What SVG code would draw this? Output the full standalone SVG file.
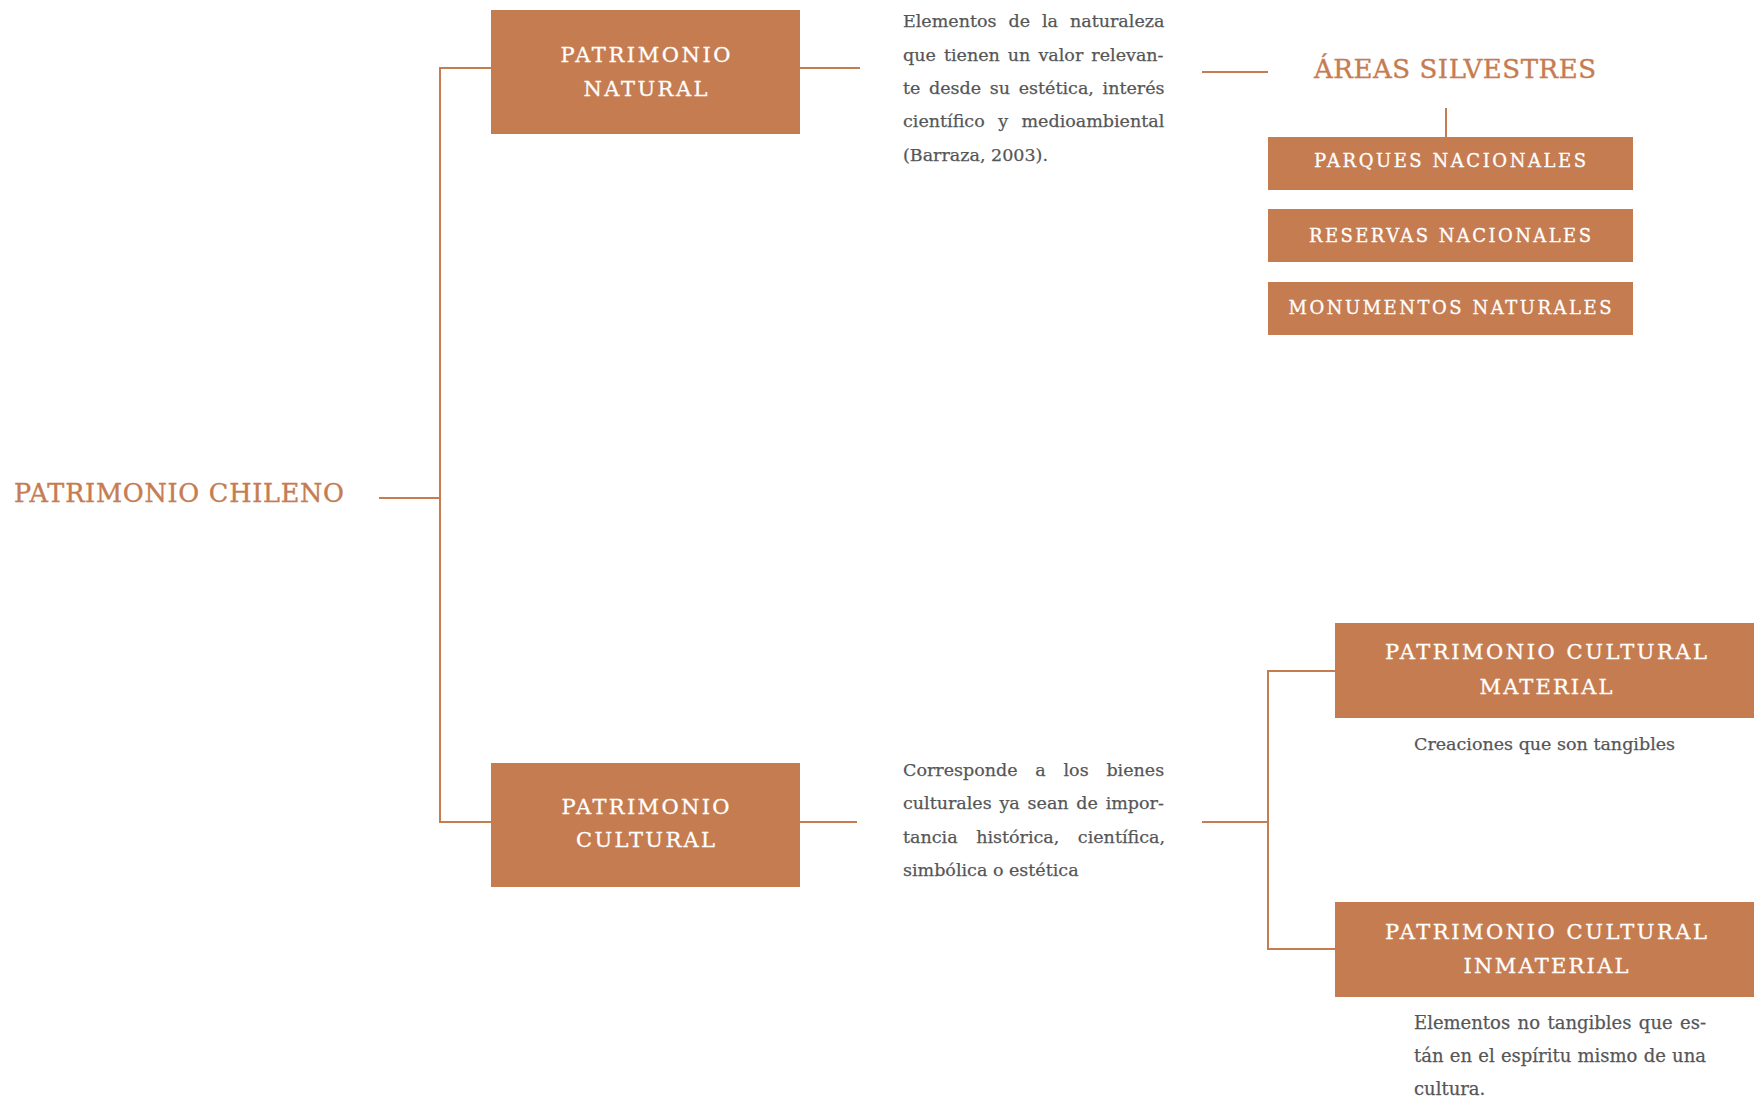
<svg xmlns="http://www.w3.org/2000/svg" width="1754" height="1103" viewBox="0 0 1754 1103">
<style>
.box{fill:#C67C51}
.lbl{font-family:"DejaVu Serif","Liberation Serif",serif;fill:#FFFFFF;stroke:#FFFFFF;stroke-width:0.3;text-anchor:middle}
.ttl{font-family:"DejaVu Serif","Liberation Serif",serif;fill:#C67C51;stroke:#C67C51;stroke-width:0.4;text-anchor:middle}
.txt{font-family:"DejaVu Serif","Liberation Serif",serif;fill:#555658;stroke:#555658;stroke-width:0.25;font-size:17.5px}
.t3{font-size:18px}
.ln{stroke:#C67C51;stroke-width:2;fill:none}
</style>
<rect width="1754" height="1103" fill="#FFFFFF"/>
<g id="connectors">
<path class="ln" d="M379,498 H440 M491,68 H440 V822 H491"/>
<path class="ln" d="M800,68 H860"/>
<path class="ln" d="M1202,72 H1268"/>
<path class="ln" d="M1446,108 V137"/>
<path class="ln" d="M800,822 H857"/>
<path class="ln" d="M1202,822 H1268 M1335,671 H1268 V949 H1335"/>
</g>
<g id="patrimonio-chileno">
<text class="ttl" x="179" y="502" font-size="25.5" textLength="330" lengthAdjust="spacing">PATRIMONIO CHILENO</text>
</g>
<g id="patrimonio-natural">
<rect class="box" x="491" y="10" width="309" height="124"/>
<text class="lbl" x="645.5" y="62" font-size="21" textLength="170" lengthAdjust="spacing">PATRIMONIO</text>
<text class="lbl" x="645.5" y="96" font-size="21" textLength="124" lengthAdjust="spacing">NATURAL</text>
</g>
<g id="desc-natural">
<text class="txt" x="903" y="27" word-spacing="6.4">Elementos de la naturaleza</text>
<text class="txt" x="903" y="60.5" word-spacing="2.5">que tienen un valor relevan-</text>
<text class="txt" x="903" y="94" word-spacing="3.1">te desde su estética, interés</text>
<text class="txt" x="903" y="127" word-spacing="7.9">científico y medioambiental</text>
<text class="txt" x="903" y="160.5">(Barraza, 2003).</text>
</g>
<g id="areas-silvestres">
<text class="ttl" x="1455" y="78" font-size="26" textLength="282" lengthAdjust="spacing">ÁREAS SILVESTRES</text>
</g>
<g id="parques-nacionales">
<rect class="box" x="1268" y="137" width="365" height="53"/>
<text class="lbl" x="1450" y="167" font-size="18" textLength="272" lengthAdjust="spacing">PARQUES NACIONALES</text>
</g>
<g id="reservas-nacionales">
<rect class="box" x="1268" y="209" width="365" height="53"/>
<text class="lbl" x="1450" y="242" font-size="18" textLength="282" lengthAdjust="spacing">RESERVAS NACIONALES</text>
</g>
<g id="monumentos-naturales">
<rect class="box" x="1268" y="282" width="365" height="53"/>
<text class="lbl" x="1450" y="314" font-size="18" textLength="323" lengthAdjust="spacing">MONUMENTOS NATURALES</text>
</g>
<g id="patrimonio-cultural">
<rect class="box" x="491" y="763" width="309" height="124"/>
<text class="lbl" x="645.5" y="814" font-size="21" textLength="168" lengthAdjust="spacing">PATRIMONIO</text>
<text class="lbl" x="645.5" y="847" font-size="21" textLength="139" lengthAdjust="spacing">CULTURAL</text>
</g>
<g id="desc-cultural">
<text class="txt" x="903" y="775.7" word-spacing="12.2">Corresponde a los bienes</text>
<text class="txt" x="903" y="809.2" word-spacing="2.2">culturales ya sean de impor-</text>
<text class="txt" x="903" y="842.7" word-spacing="13">tancia histórica, científica,</text>
<text class="txt" x="903" y="876.2">simbólica o estética</text>
</g>
<g id="patrimonio-cultural-material">
<rect class="box" x="1335" y="623" width="419" height="95"/>
<text class="lbl" x="1546" y="659" font-size="21" textLength="322" lengthAdjust="spacing">PATRIMONIO  CULTURAL</text>
<text class="lbl" x="1546" y="694" font-size="21" textLength="133" lengthAdjust="spacing">MATERIAL</text>
<text class="txt" x="1414" y="750">Creaciones que son tangibles</text>
</g>
<g id="patrimonio-cultural-inmaterial">
<rect class="box" x="1335" y="902" width="419" height="95"/>
<text class="lbl" x="1546" y="939" font-size="21" textLength="322" lengthAdjust="spacing">PATRIMONIO  CULTURAL</text>
<text class="lbl" x="1546" y="973" font-size="21" textLength="165" lengthAdjust="spacing">INMATERIAL</text>
<text class="txt t3" x="1414" y="1029" word-spacing="1.7">Elementos no tangibles que es-</text>
<text class="txt t3" x="1414" y="1062" word-spacing="0.5">tán en el espíritu mismo de una</text>
<text class="txt t3" x="1414" y="1095">cultura.</text>
</g>
</svg>
